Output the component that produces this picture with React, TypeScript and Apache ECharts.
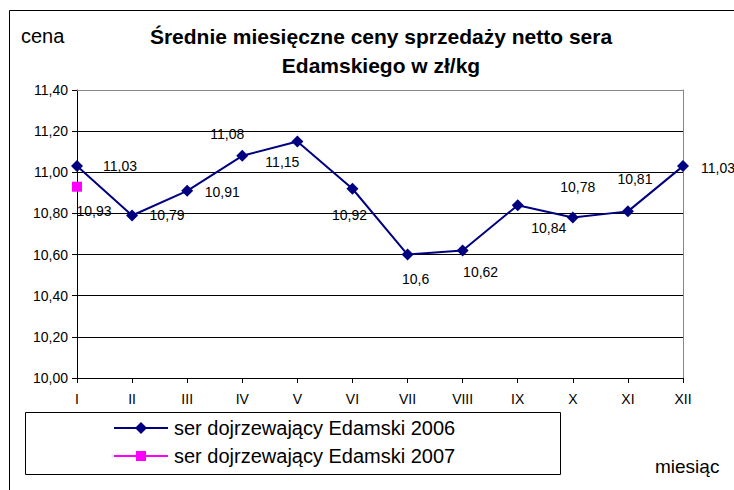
import React, { useEffect, useRef } from "react";
import * as echarts from "echarts";

const months = ["I", "II", "III", "IV", "V", "VI", "VII", "VIII", "IX", "X", "XI", "XII"];
const ser2006 = [11.03, 10.79, 10.91, 11.08, 11.15, 10.92, 10.6, 10.62, 10.84, 10.78, 10.81, 11.03];
const ser2007: (number | null)[] = [10.93, null, null, null, null, null, null, null, null, null, null, null];
const seriesNames = ["ser dojrzewający Edamski 2006", "ser dojrzewający Edamski 2007"];
const yMin = 10;
const yMax = 11.4;
const yStep = 0.2;
const titleLines = ["Średnie miesięczne ceny sprzedaży netto sera", "Edamskiego w zł/kg"];
const yAxisName = "cena";
const xAxisName = "miesiąc";

// label placement (styling, not data)
const offsets2006 = [[43, 0], [35, 0], [35, 1], [-15, -22], [-15, 21], [-3, 26], [8, 24], [18, 22], [31, 23], [5, -31], [7, -32], [35, 2]];
const offsets2007 = [[17, 24]];
const colors = ["#000080", "#FF00FF"];

const FONT = "'Liberation Sans', Arial, sans-serif";
const fmt = (v: number) => String(v).replace(".", ",");

export default function App() {
  const ref = useRef<HTMLDivElement>(null);
  useEffect(() => {
    if (!ref.current) return;
    const chart = echarts.init(ref.current, null, { renderer: "svg" });
    const labelBase = {
      show: true,
      position: "inside",
      align: "center",
      verticalAlign: "middle",
      color: "#000",
      fontSize: 14,
      fontFamily: FONT,
      formatter: (p: any) => fmt(p.value),
    };
    const data2006 = ser2006.map((v, i) => ({
      value: v,
      label: { ...labelBase, offset: offsets2006[i] },
    }));
    const data2007 = ser2007.map((v, i) =>
      v == null ? null : { value: v, label: { ...labelBase, offset: offsets2007[i] } }
    );

    // legend drawn as graphic (box, line+marker icons, texts)
    const lgX = 114;
    const lgW = 54;
    const lgY = [428, 456];
    const mid = lgX + lgW / 2;
    const legendEls: any[] = [
      {
        type: "rect",
        shape: { x: 25.5, y: 412.5, width: 535, height: 62 },
        style: { fill: "none", stroke: "#000", lineWidth: 1 },
      },
    ];
    seriesNames.forEach((name, i) => {
      legendEls.push({
        type: "line",
        shape: { x1: lgX, y1: lgY[i], x2: lgX + lgW, y2: lgY[i] },
        style: { stroke: colors[i], lineWidth: 2 },
      });
      legendEls.push(
        i === 0
          ? {
              type: "polygon",
              shape: { points: [[mid, lgY[i] - 6], [mid + 6, lgY[i]], [mid, lgY[i] + 6], [mid - 6, lgY[i]]] },
              style: { fill: colors[i] },
            }
          : {
              type: "rect",
              shape: { x: mid - 5, y: lgY[i] - 5, width: 10, height: 10 },
              style: { fill: colors[i] },
            }
      );
      legendEls.push({
        type: "text",
        x: 174,
        y: lgY[i],
        style: { text: name, font: `20px ${FONT}`, fill: "#000", textVerticalAlign: "middle" },
      });
    });

    chart.setOption({
      animation: false,
      backgroundColor: "#fff",
      textStyle: { fontFamily: FONT },
      grid: { left: 77, right: 51, top: 90, bottom: 112, containLabel: false },
      graphic: [
        {
          type: "rect",
          shape: { x: 9.5, y: 10.5, width: 800, height: 600 },
          style: { fill: "none", stroke: "#000", lineWidth: 1 },
        },
        {
          type: "text",
          x: 381,
          y: 36,
          style: {
            text: titleLines[0],
            font: `bold 21px ${FONT}`,
            fill: "#000",
            textAlign: "center",
            textVerticalAlign: "middle",
          },
        },
        {
          type: "text",
          x: 381,
          y: 65,
          style: {
            text: titleLines[1],
            font: `bold 21px ${FONT}`,
            fill: "#000",
            textAlign: "center",
            textVerticalAlign: "middle",
          },
        },
        {
          type: "text",
          x: 21,
          y: 36,
          style: { text: yAxisName, font: `20px ${FONT}`, fill: "#000", textVerticalAlign: "middle" },
        },
        {
          type: "text",
          x: 655,
          y: 466,
          style: { text: xAxisName, font: `19px ${FONT}`, fill: "#000", textVerticalAlign: "middle" },
        },
        ...legendEls,
      ],
      xAxis: [
        {
          type: "category",
          data: months,
          boundaryGap: false,
          axisLine: { lineStyle: { color: "#000", width: 1 } },
          axisTick: { show: true, length: 5, lineStyle: { color: "#000" } },
          axisLabel: { color: "#000", fontSize: 14, margin: 14, fontFamily: FONT },
          splitLine: { show: false },
        },
        {
          type: "category",
          data: months,
          boundaryGap: false,
          position: "top",
          axisLine: { lineStyle: { color: "#888", width: 1 } },
          axisTick: { show: false },
          axisLabel: { show: false },
        },
      ],
      yAxis: [
        {
          type: "value",
          min: yMin,
          max: yMax,
          interval: yStep,
          axisLine: { show: true, lineStyle: { color: "#000", width: 1 } },
          axisTick: { show: true, length: 5, lineStyle: { color: "#000" } },
          axisLabel: {
            color: "#000",
            fontSize: 14,
            margin: 9,
            fontFamily: FONT,
            formatter: (v: number) => v.toFixed(2).replace(".", ","),
          },
          splitLine: { show: true, lineStyle: { color: "#000", width: 1 } },
        },
        {
          type: "value",
          min: yMin,
          max: yMax,
          interval: yStep,
          position: "right",
          axisLine: { show: true, lineStyle: { color: "#888", width: 1 } },
          axisTick: { show: false },
          axisLabel: { show: false },
          splitLine: { show: false },
        },
      ],
      series: [
        {
          name: seriesNames[0],
          type: "line",
          data: data2006,
          symbol: "diamond",
          symbolSize: 12,
          lineStyle: { color: colors[0], width: 2 },
          itemStyle: { color: colors[0] },
          z: 3,
        },
        {
          name: seriesNames[1],
          type: "line",
          data: data2007,
          symbol: "rect",
          symbolSize: 10,
          lineStyle: { color: colors[1], width: 2 },
          itemStyle: { color: colors[1] },
          z: 4,
        },
      ],
    });
    return () => chart.dispose();
  }, []);
  return (
    <div
      ref={ref}
      style={{ position: "fixed", left: 0, top: 0, width: 734, height: 490, background: "#fff" }}
    />
  );
}
